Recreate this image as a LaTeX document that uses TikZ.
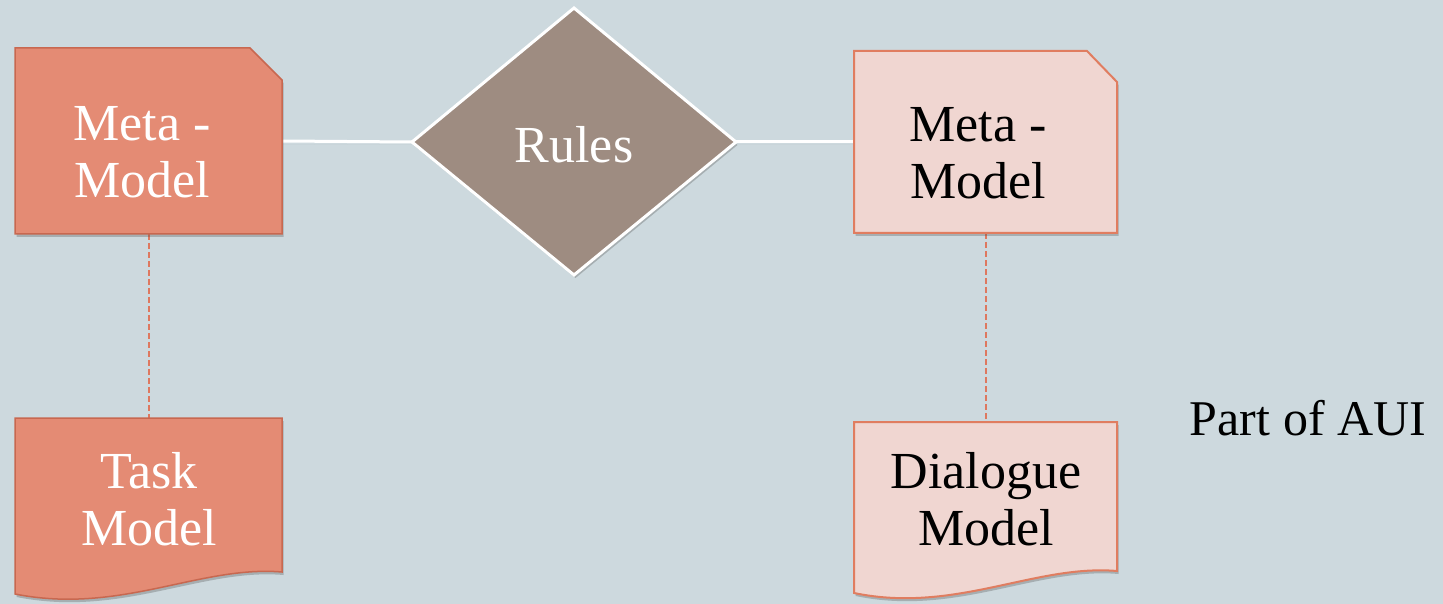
\documentclass[tikz,border=0pt]{standalone}
\usepackage{fontspec}
\setmainfont{Liberation Serif}
\usetikzlibrary{shadows}
\definecolor{bgc}{RGB}{205,217,222}
\definecolor{darkfill}{RGB}{228,139,116}
\definecolor{darkline}{RGB}{200,104,80}
\definecolor{lightfill}{RGB}{240,214,209}
\definecolor{lightline}{RGB}{224,125,96}
\definecolor{rulefill}{RGB}{158,140,129}
\definecolor{dashc}{RGB}{222,120,95}
\tikzset{
  area/.style={inner sep=0pt, outer sep=0pt},
  lbl/.style={font=\fontsize{52}{57}\selectfont, align=center, inner sep=0pt},
  darkshape/.style={fill=darkfill, draw=darkline, line width=1.5pt, line join=miter,
    drop shadow={shadow xshift=1.5pt, shadow yshift=-3pt, opacity=0.3, fill=black!70}},
  lightshape/.style={fill=lightfill, draw=lightline, line width=2pt, line join=miter,
    drop shadow={shadow xshift=1.5pt, shadow yshift=-3pt, opacity=0.3, fill=black!70}},
  whitelink/.style={draw=white, line width=3pt},
  dashlink/.style={draw=dashc, line width=2pt, dash pattern=on 6pt off 3pt},
}
\begin{document}
\begin{tikzpicture}[x=1pt,y=-1pt]
\useasboundingbox[fill=bgc] (0,0) rectangle (1443,604);

% areas of the shapes
\node[area, minimum width=267pt, minimum height=186pt] (lt) at (148.5,141) {};
\node[area, minimum width=263pt, minimum height=182pt] (rt) at (985.5,142) {};
\node[area, minimum width=267pt, minimum height=154pt] (lb) at (148.5,495) {};
\node[area, minimum width=263pt, minimum height=149pt] (rb) at (985.5,496.5) {};
\node[area, minimum width=324pt, minimum height=267pt] (rules) at (574,141.5) {};
\coordinate (rl) at (412,142);
\coordinate (rr) at (736,142);

% connectors (behind shapes)
\draw[dashlink] (lt.south) -- (lb.north);
\draw[dashlink] (rt.south) -- (rb.north);
\draw[whitelink, drop shadow={shadow xshift=0pt, shadow yshift=-3pt, opacity=0.2, fill=black!70}] (lt.east) -- (rl);
\draw[whitelink, drop shadow={shadow xshift=0pt, shadow yshift=-3pt, opacity=0.2, fill=black!70}] (rr) -- (rt.west);

% left top: snipped corner
\path[darkshape] (lt.north west) -- ([xshift=-32pt]lt.north east) -- ([yshift=-32pt]lt.north east)
  -- (lt.south east) -- (lt.south west) -- cycle;
% right top: snipped corner
\path[lightshape] (rt.north west) -- ([xshift=-30pt]rt.north east) -- ([yshift=-31pt]rt.north east)
  -- (rt.south east) -- (rt.south west) -- cycle;
% left bottom: document
\path[darkshape] (lb.north west) -- (lb.north east) -- (282,572)
  .. controls (200,565) and (120,615) .. (15,594) -- cycle;
% right bottom: document
\path[lightshape] (rb.north west) -- (rb.north east) -- (1117,571)
  .. controls (1035,564) and (955,614) .. (854,593) -- cycle;

% diamond
\path[fill=rulefill, draw=white, line width=3pt, line join=miter,
  drop shadow={shadow xshift=1.5pt, shadow yshift=-3pt, opacity=0.3, fill=black!70}]
  (rules.north) -- (rr) -- (rules.south) -- (rl) -- cycle;

% texts
\node[lbl, text=white] (ltt) at (142,152) {Meta -\\Model};
\node[lbl, text=black] (rtt) at (978,153) {Meta -\\Model};
\node[lbl, text=white] (lbt) at (149,499) {Task\\Model};
\node[lbl, text=black] (rbt) at (986,499) {Dialogue\\Model};
\node[lbl, text=white] (rt2) at (574,145) {Rules};
\node[font=\fontsize{50}{57}\selectfont, inner sep=0pt, anchor=base] (aui) at (1308,435) {Part of AUI};
\end{tikzpicture}
\end{document}
